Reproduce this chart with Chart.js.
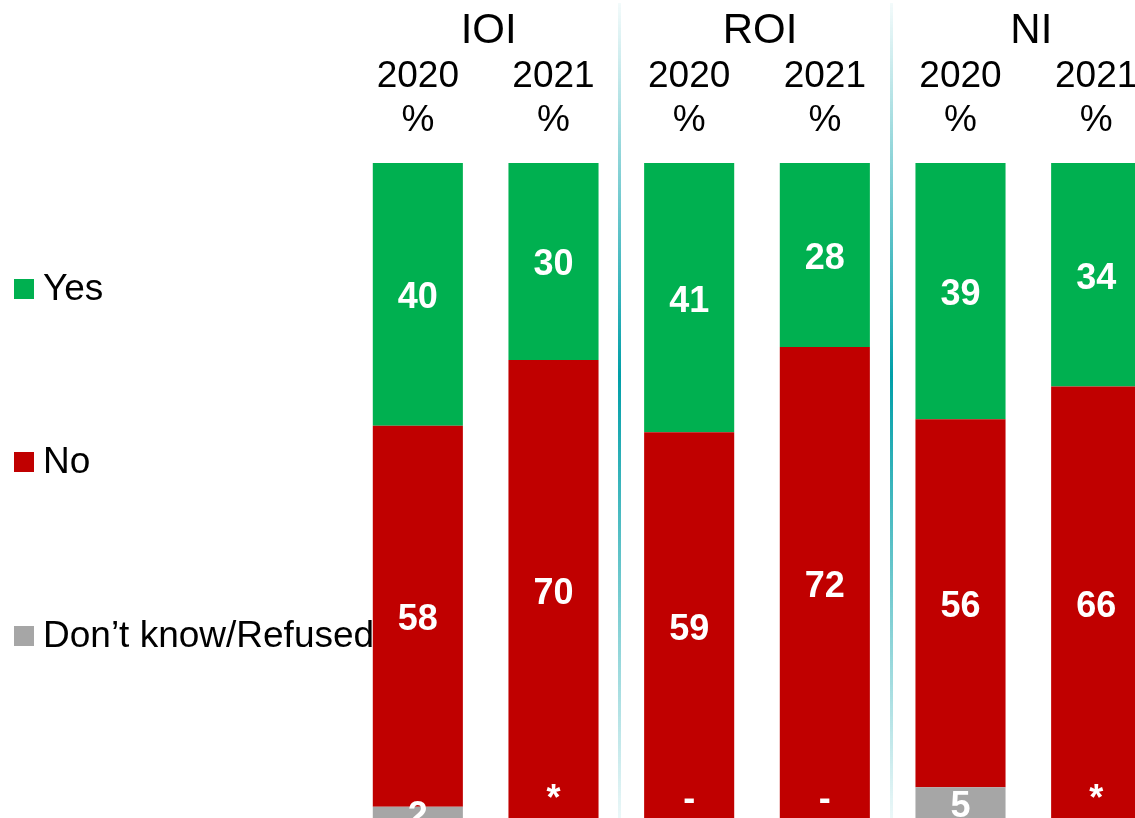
<!DOCTYPE html>
<html>
<head>
<meta charset="utf-8">
<script src="https://cdn.jsdelivr.net/npm/chart.js@4"></script>
<style>
    html, body { margin: 0; padding: 0; background: #fff; overflow: hidden; }
    #wrap { width: 1135px; height: 818px; overflow: hidden; }
    canvas { display: block; }
</style>
</head>
<body>
<div id="wrap"><canvas id="myChart" width="1170" height="826"></canvas></div>
<script>
// Regions and survey years
const GROUPS = ["IOI", "ROI", "NI"];
const YEARS = ["2020", "2021", "2020", "2021", "2020", "2021"];
const BAR_KEYS = ["IOI 2020", "IOI 2021", "ROI 2020", "ROI 2021", "NI 2020", "NI 2021"];

// Percentages per answer
const yesValues = [40, 30, 41, 28, 39, 34];
const noValues = [58, 70, 59, 72, 56, 66];
const dkValues = [2, 0, 0, 0, 5, 0];
const dkLabels = ["2", "*", "-", "-", "5", "*"];

const SERIES = ["Yes", "No", "Don\u2019t know/Refused"];

const COLORS = {
    yes: "#00B050",
    no: "#C00000",
    dk: "#A6A6A6",
    sep: "0, 159, 168",
};

const FONT = "'Liberation Sans', Arial, sans-serif";

// headers, separators, legend and value labels
const decorPlugin = {
    id: "decor",
    beforeDatasetsDraw(chart) {
        const ctx = chart.ctx;
        const x = chart.scales.x;
        // faded vertical lines between the regions
        [1.5, 3.5].forEach((v) => {
            const px = Math.round((x.getPixelForValue(v - 0.5) + x.getPixelForValue(v + 0.5)) / 2) - 2;
            const g = ctx.createLinearGradient(0, 0, 0, 818);
            g.addColorStop(0, `rgba(${COLORS.sep}, 0.04)`);
            g.addColorStop(0.46, `rgba(${COLORS.sep}, 1)`);
            g.addColorStop(1, `rgba(${COLORS.sep}, 0.08)`);
            ctx.save();
            ctx.fillStyle = g;
            ctx.fillRect(px - 1, 3, 3, 815);
            ctx.restore();
        });
    },
    afterDatasetsDraw(chart) {
        const ctx = chart.ctx;
        const x = chart.scales.x;
        ctx.save();
        ctx.textAlign = "center";
        ctx.textBaseline = "alphabetic";
        ctx.fillStyle = "#000";

        // region titles over each pair of bars
        ctx.font = `42px ${FONT}`;
        GROUPS.forEach((g, i) => {
            const cx = (x.getPixelForValue(i * 2) + x.getPixelForValue(i * 2 + 1)) / 2 + 3;
            ctx.fillText(g, cx, 43);
        });
        // year + percent sign
        ctx.font = `37px ${FONT}`;
        YEARS.forEach((y, i) => {
            const cx = x.getPixelForValue(i);
            ctx.fillText(y, cx, 87);
            ctx.fillText("%", cx, 131);
        });

        // legend on the left
        const legendRows = [
            { text: SERIES[0], color: COLORS.yes, y: 289 },
            { text: SERIES[1], color: COLORS.no, y: 462 },
            { text: SERIES[2], color: COLORS.dk, y: 636 },
        ];
        ctx.textAlign = "left";
        ctx.textBaseline = "middle";
        ctx.font = `37px ${FONT}`;
        legendRows.forEach((r) => {
            ctx.fillStyle = r.color;
            ctx.fillRect(14, r.y - 10, 20, 20);
            ctx.fillStyle = "#000";
            ctx.fillText(r.text, 43, r.y + 1);
        });

        // value labels inside the segments
        ctx.textAlign = "center";
        ctx.fillStyle = "#fff";
        ctx.font = `bold 36px ${FONT}`;
        chart.data.datasets.forEach((ds, di) => {
            const meta = chart.getDatasetMeta(di);
            meta.data.forEach((bar, i) => {
                const p = bar.getProps(["x", "y", "base"], true);
                const text = ds.valueLabels[i];
                let cy = (p.y + p.base) / 2;
                if (ds.data[i] === 0) cy = p.base - 24;
                ctx.fillText(text, p.x, cy + 4);
            });
        });
        ctx.restore();
    },
};

function graphConfig() {
    const datasets = [
        {
            label: SERIES[0],
            data: yesValues,
            valueLabels: yesValues.map(String),
            backgroundColor: COLORS.yes,
        },
        {
            label: SERIES[1],
            data: noValues,
            valueLabels: noValues.map(String),
            backgroundColor: COLORS.no,
        },
        {
            label: SERIES[2],
            data: dkValues,
            valueLabels: dkLabels,
            backgroundColor: COLORS.dk,
        },
    ];
    datasets.forEach((d) => {
        d.borderWidth = 0;
        d.barPercentage = 0.664;
        d.categoryPercentage = 1;
    });
    // Yes sits on top, so stack from the bottom up
    datasets.reverse();

    return {
        type: "bar",
        data: { labels: BAR_KEYS, datasets: datasets },
        options: {
            responsive: false,
            animation: false,
            layout: { padding: { left: 350, right: 6, top: 163, bottom: 6 } },
            plugins: {
                legend: { display: false },
                tooltip: { enabled: false },
            },
            scales: {
                x: { stacked: true, display: false },
                y: { stacked: true, display: false, min: 0, max: 100 },
            },
        },
        plugins: [decorPlugin],
    };
}

window.onload = function () {
    const ctx = document.getElementById("myChart").getContext("2d");
    window.graph = new Chart(ctx, graphConfig());
};
</script>
</body>
</html>
